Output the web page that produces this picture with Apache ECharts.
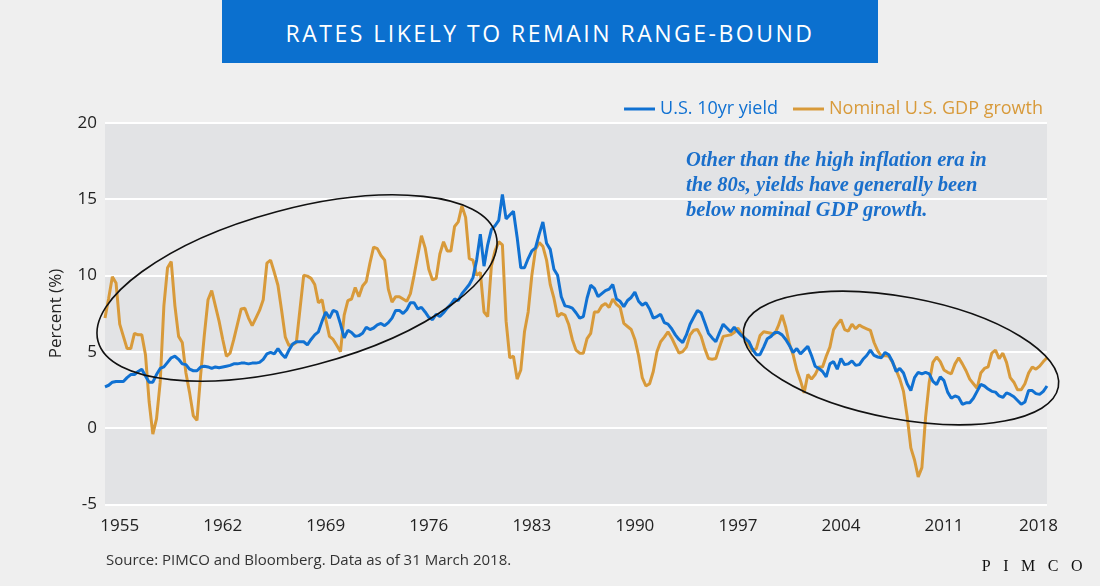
<!DOCTYPE html>
<html>
<head>
<meta charset="utf-8">
<script src="https://cdn.jsdelivr.net/npm/echarts@6/dist/echarts.min.js"></script>
<style>
  body { margin: 0; background: #efefef; }
  #wrap { position: relative; width: 1100px; height: 586px; }
  #chart { width: 1100px; height: 586px; }
  #title {
    position: absolute; left: 222px; top: 0; width: 656px; height: 63px;
    background: #0b70cf; color: #fff; text-align: center;
    font: 23px "Open Sans", sans-serif; line-height: 66px; letter-spacing: 2.5px;
  }
  #logo {
    position: absolute; right: 5px; top: 557px;
    font: 16px "Liberation Serif", serif; line-height: 18px; letter-spacing: 12.5px; color: #111;
  }
</style>
</head>
<body>
<div id="wrap">
  <div id="chart"></div>
  <div id="title">RATES LIKELY TO REMAIN RANGE-BOUND</div>
  <div id="logo">PIMCO</div>
</div>
<script>
// quarterly, 1954Q1 .. 2018Q1
const quarters = []
for (let y = 1954; y <= 2018; y++) {
    for (let q = 1; q <= 4; q++) {
        if (y === 2018 && q > 1) break
        quarters.push(y + 'Q' + q)
    }
}
const yearTicks = ['1955', '1962', '1969', '1976', '1983', '1990', '1997', '2004', '2011', '2018']

// U.S. 10yr yield, %
const yield10y = [
    2.7, 2.8, 3.0, 3.05, 3.05, 3.05, 3.3, 3.5, 3.5, 3.7,
    3.85, 3.4, 3.0, 3.0, 3.5, 3.9, 4.0, 4.3, 4.6, 4.7,
    4.5, 4.2, 4.15, 3.85, 3.75, 3.75, 4.0, 4.05, 4.0, 3.9,
    4.0, 3.95, 4.0, 4.05, 4.1, 4.2, 4.2, 4.25, 4.25, 4.2,
    4.25, 4.25, 4.3, 4.5, 4.85, 4.95, 4.85, 5.2, 4.85, 4.6,
    5.1, 5.5, 5.65, 5.65, 5.65, 5.45, 5.8, 6.1, 6.3, 7.0,
    7.6, 7.2, 7.7, 7.6, 6.8, 5.9, 6.4, 6.25, 6.0, 6.05,
    6.2, 6.6, 6.45, 6.55, 6.75, 6.85, 6.7, 6.9, 7.2, 7.7,
    7.7, 7.5, 7.75, 8.2, 8.2, 7.8, 7.9, 7.6, 7.25, 7.1,
    7.45, 7.3, 7.55, 7.85, 8.1, 8.45, 8.35, 8.8, 9.1, 9.4,
    9.85, 11.0, 12.7, 10.6, 12.0, 13.0, 13.25, 13.6, 15.3, 13.7,
    13.95, 14.2, 12.5, 10.5, 10.5, 11.1, 11.6, 11.8, 12.7, 13.5,
    12.1, 11.7, 10.4, 10.0, 8.6, 8.0, 7.95, 7.85, 7.55, 7.2,
    7.3, 8.5, 9.35, 9.15, 8.6, 8.8, 9.0, 9.1, 9.4, 8.45,
    8.3, 7.95, 8.35, 8.55, 8.9, 8.3, 8.05, 8.2, 7.8, 7.2,
    7.3, 7.45, 6.9, 6.8, 6.5, 6.1, 5.8, 5.6, 6.1, 6.8,
    7.25, 7.7, 7.55, 6.9, 6.2, 5.9, 5.65, 6.25, 6.8, 6.55,
    6.3, 6.6, 6.3, 6.05, 5.85, 5.65, 5.15, 4.8, 4.8, 5.3,
    5.85, 6.0, 6.25, 6.25, 6.1, 5.8, 5.4, 4.95, 5.2, 4.85,
    5.1, 5.35, 4.75, 4.05, 3.9, 3.7, 3.35, 4.2, 4.35, 3.85,
    4.55, 4.15, 4.2, 4.4, 4.1, 4.15, 4.5, 4.75, 5.1, 4.75,
    4.65, 4.6, 4.95, 4.8, 4.35, 3.7, 3.9, 3.6, 2.9, 2.45,
    3.3, 3.65, 3.55, 3.65, 3.55, 3.05, 2.85, 3.35, 3.1, 2.35,
    1.95, 2.1, 2.0, 1.55, 1.65, 1.65, 1.95, 2.4, 2.85, 2.75,
    2.55, 2.4, 2.35, 2.1, 2.0, 2.3, 2.2, 2.05, 1.8, 1.55,
    1.7, 2.45, 2.45, 2.25, 2.2, 2.4, 2.75
]

// Nominal U.S. GDP growth, % y/y
const gdpGrowth = [
    7.2, 8.5, 9.9, 9.5, 6.8, 6.0, 5.2, 5.2, 6.2, 6.1,
    6.1, 4.8, 1.7, -0.4, 0.6, 3.0, 8.0, 10.5, 10.9, 8.0,
    6.0, 5.6, 3.6, 2.3, 0.8, 0.5, 3.5, 6.1, 8.4, 9.0,
    8.0, 7.0, 5.8, 4.7, 4.9, 5.8, 6.8, 7.8, 7.85, 7.2,
    6.7, 7.2, 7.7, 8.4, 10.8, 11.0, 10.2, 9.35, 7.7, 5.95,
    5.4, 5.45, 5.6, 7.8, 10.0, 9.95, 9.8, 9.4, 8.2, 8.4,
    7.1, 6.0, 5.8, 5.4, 5.0, 7.4, 8.35, 8.45, 9.2, 8.6,
    9.3, 9.6, 10.8, 11.85, 11.75, 11.3, 11.0, 9.1, 8.25, 8.6,
    8.6, 8.45, 8.3, 8.8, 10.0, 11.3, 12.6, 11.8, 10.4, 9.7,
    9.8, 11.4, 12.2, 11.6, 11.6, 13.2, 13.5, 14.55, 13.8, 11.1,
    11.0, 10.0, 10.2, 7.6, 7.3, 10.6, 11.6, 12.2, 12.0, 7.0,
    4.6, 4.7, 3.2, 3.8, 6.3, 7.6, 10.0, 11.7, 12.15, 11.9,
    11.0, 9.4, 8.5, 7.3, 7.5, 7.4, 6.8, 5.8, 5.1, 4.9,
    4.9, 5.85, 6.2, 7.6, 7.6, 8.0, 8.15, 7.9, 8.45, 8.1,
    7.9, 6.85, 6.65, 6.45, 5.8, 4.75, 3.3, 2.75, 2.9, 3.7,
    5.0, 5.65, 5.95, 6.3, 5.9, 5.4, 4.9, 5.0, 5.3, 6.1,
    6.4, 6.45, 6.0, 5.2, 4.55, 4.5, 4.55, 5.3, 6.0, 6.05,
    6.1, 6.25, 6.55, 6.15, 5.85, 5.4, 5.05, 5.2, 6.05, 6.3,
    6.25, 6.2, 6.15, 6.7, 7.4, 6.6, 5.5, 4.8, 3.8, 3.1,
    2.3, 3.5, 3.2, 3.5, 4.0, 4.0, 4.7, 5.3, 6.45, 6.8,
    7.1, 6.45, 6.35, 6.8, 6.5, 6.75, 6.6, 6.5, 6.4, 5.6,
    5.05, 4.7, 4.75, 4.7, 4.3, 3.8, 3.2, 2.4, 0.75, -1.3,
    -2.1, -3.2, -2.6, 0.7, 3.0, 4.3, 4.65, 4.35, 3.8, 3.65,
    3.55, 4.2, 4.6, 4.2, 3.75, 3.2, 2.9, 2.6, 3.6, 3.9,
    4.0, 4.9, 5.1, 4.55, 4.9, 4.3, 3.3, 3.0, 2.5, 2.5,
    2.9, 3.6, 4.0, 3.85, 4.05, 4.35, 4.6
]

const BLUE = '#1071d2'
const GOLD = '#d89a3a'
const FONT = '"Open Sans", "Noto Sans", sans-serif'

let chart = echarts.init(document.getElementById('chart'))
chart.setOption({
    backgroundColor: '#efefef',
    animation: false,
    textStyle: { fontFamily: FONT },
    grid: { left: 105, right: 53, top: 122.7, bottom: 81.7 },
    legend: {
        right: 52,
        top: 95,
        itemWidth: 31,
        itemHeight: 3,
        itemGap: 15,
        icon: 'rect',
        textStyle: { fontSize: 18, fontFamily: FONT },
        data: [
            { name: 'U.S. 10yr yield', textStyle: { color: BLUE } },
            { name: 'Nominal U.S. GDP growth', textStyle: { color: GOLD } }
        ]
    },
    xAxis: {
        type: 'category',
        data: quarters,
        boundaryGap: false,
        axisLine: { show: false },
        axisTick: { show: false },
        splitLine: { show: false },
        axisLabel: {
            margin: 13,
            fontSize: 17,
            color: '#222',
            interval: function (idx, value) {
                return value.endsWith('Q1') && yearTicks.includes(value.slice(0, 4))
            },
            formatter: function (value, idx) {
                // last label sits a little inside the plot edge
                if (idx === quarters.length - 1) return '{last|' + value.slice(0, 4) + '}'
                return value.slice(0, 4)
            },
            rich: {
                last: { fontSize: 17, color: '#222', padding: [0, 17, 0, 0] }
            }
        }
    },
    yAxis: {
        type: 'value',
        min: -5,
        max: 20,
        interval: 5,
        name: 'Percent (%)',
        nameLocation: 'middle',
        nameGap: 40,
        nameTextStyle: { fontSize: 17, color: '#222' },
        axisLine: { show: false },
        axisTick: { show: false },
        axisLabel: { fontSize: 17, color: '#222', margin: 8 },
        splitLine: { lineStyle: { color: '#ffffff', width: 2 } },
        splitArea: { show: true, areaStyle: { color: ['#e2e3e5', '#eaeaeb'] } }
    },
    series: [
        {
            name: 'Nominal U.S. GDP growth',
            type: 'line',
            data: gdpGrowth,
            showSymbol: false,
            color: GOLD,
            lineStyle: { width: 3, color: GOLD }
        },
        {
            name: 'U.S. 10yr yield',
            type: 'line',
            data: yield10y,
            showSymbol: false,
            color: BLUE,
            lineStyle: { width: 3, color: BLUE }
        }
    ],
    graphic: [
        {
            type: 'ellipse', x: 297, y: 288, rotation: 15 * Math.PI / 180, z: 100,
            shape: { cx: 0, cy: 0, rx: 206, ry: 79 },
            style: { fill: 'none', stroke: '#111', lineWidth: 1.6 }
        },
        {
            type: 'ellipse', x: 901, y: 358, rotation: -10.5 * Math.PI / 180, z: 100,
            shape: { cx: 0, cy: 0, rx: 160, ry: 61 },
            style: { fill: 'none', stroke: '#111', lineWidth: 1.6 }
        },
        {
            type: 'text', x: 686, y: 148, z: 100,
            style: {
                text: 'Other than the high inflation era in\nthe 80s, yields have generally been\nbelow nominal GDP growth.',
                font: 'italic bold 20.5px "Liberation Serif", serif',
                lineHeight: 25,
                fill: '#1a6fcb'
            }
        },
        {
            type: 'text', x: 106, y: 561, z: 100,
            style: {
                text: 'Source: PIMCO and Bloomberg. Data as of 31 March 2018.',
                font: '15px ' + FONT,
                fill: '#333',
                verticalAlign: 'middle'
            }
        }
    ]
})
</script>
</body>
</html>
